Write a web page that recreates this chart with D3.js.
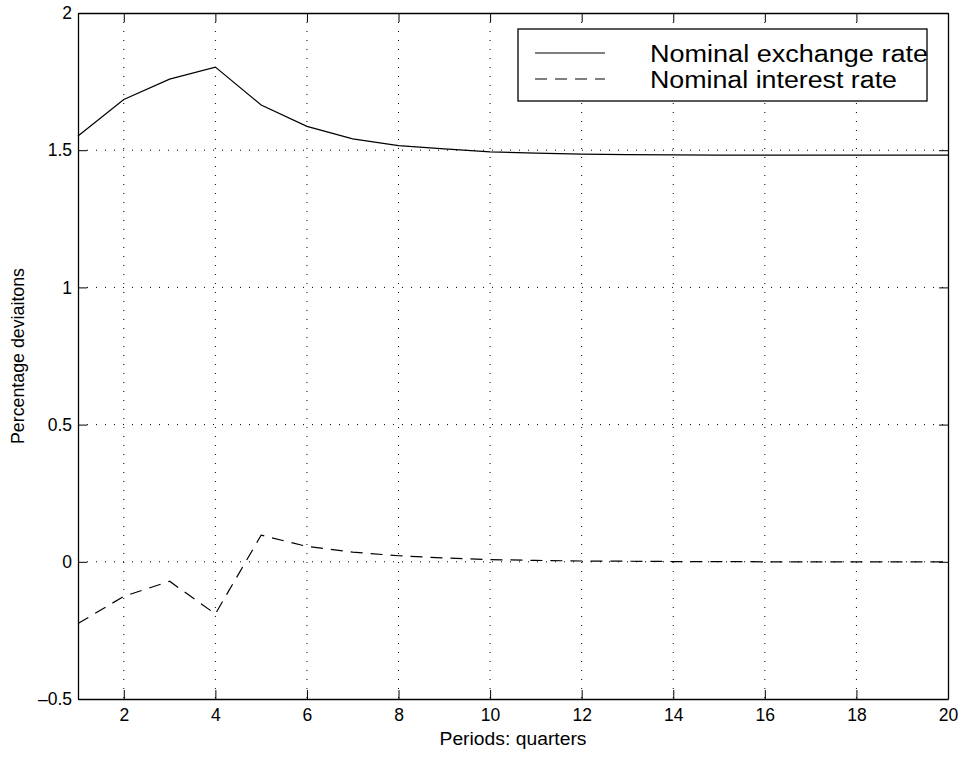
<!DOCTYPE html>
<html>
<head>
<meta charset="utf-8">
<script src="https://cdn.jsdelivr.net/npm/d3@7"></script>
<style>
  body { margin: 0; background: #fff; }
  text { font-family: "Liberation Sans", Arial, sans-serif; }
</style>
</head>
<body>
<div class="chart"></div>
<script>
var totalWidth = 964;
var totalHeight = 757;

var margin = { top: 13, left: 78, bottom: 58, right: 16 };

var width = totalWidth - margin.left - margin.right;
var height = totalHeight - margin.top - margin.bottom;

// DATA STUFF
var periods = [1, 2, 3, 4, 5, 6, 7, 8, 9, 10, 11, 12, 13, 14, 15, 16, 17, 18, 19, 20];
var exchangeRate = [1.552, 1.685, 1.759, 1.803, 1.665, 1.587, 1.541, 1.517, 1.505, 1.494,
  1.489, 1.486, 1.484, 1.483, 1.482, 1.482, 1.482, 1.482, 1.482, 1.482];
var interestRate = [-0.225, -0.126, -0.071, -0.19, 0.097, 0.056, 0.035, 0.022, 0.014, 0.008,
  0.005, 0.003, 0.002, 0.001, 0.001, 0, 0, 0, 0, 0];

var seriesNames = ["Nominal exchange rate", "Nominal interest rate"];
var xTicks = [2, 4, 6, 8, 10, 12, 14, 16, 18, 20];
var yTicks = [-0.5, 0, 0.5, 1, 1.5, 2];
var yTickLabels = ["\u20130.5", "0", "0.5", "1", "1.5", "2"];

// SCALES
var xScale = d3.scaleLinear().domain([1, 20]).range([0, width]);
var yScale = d3.scaleLinear().domain([-0.5, 2]).range([height, 0]);

var svg = d3.select(".chart")
  .append("svg")
  .attr("width", totalWidth)
  .attr("height", totalHeight);

var mainGroup = svg.append("g")
  .attr("transform", "translate(" + margin.left + "," + margin.top + ")");

// GRID
mainGroup.append("g")
  .selectAll("line")
  .data(xTicks.slice(0, -1))
  .enter()
  .append("line")
  .attr("x1", function(d) { return xScale(d); })
  .attr("x2", function(d) { return xScale(d); })
  .attr("y1", 0)
  .attr("y2", height)
  .attr("stroke", "#000")
  .attr("stroke-width", 1)
  .attr("stroke-dasharray", "1,8");

mainGroup.append("g")
  .selectAll("line")
  .data(yTicks.slice(1, -1))
  .enter()
  .append("line")
  .attr("x1", 0)
  .attr("x2", width)
  .attr("y1", function(d) { return yScale(d); })
  .attr("y2", function(d) { return yScale(d); })
  .attr("stroke", "#000")
  .attr("stroke-width", 1)
  .attr("stroke-dasharray", "1,8");

// AXES
var xAxis = d3.axisBottom(xScale).tickValues(xTicks).tickSizeInner(-9).tickSizeOuter(0).tickPadding(10);
var yAxis = d3.axisLeft(yScale).tickValues(yTicks).tickSizeInner(-9).tickSizeOuter(0).tickPadding(6)
  .tickFormat(function(d, i) { return yTickLabels[i]; });
var xTop = d3.axisTop(xScale).tickValues(xTicks).tickSizeInner(-9).tickSizeOuter(0).tickFormat("");
var yRight = d3.axisRight(yScale).tickValues(yTicks).tickSizeInner(-9).tickSizeOuter(0).tickFormat("");

function styleAxis(g) {
  g.selectAll(".domain").attr("stroke", "#000").attr("stroke-width", 1.3);
  g.selectAll(".tick line").attr("stroke", "#000");
  g.selectAll(".tick text")
    .style("font-family", "'Liberation Sans', Arial, sans-serif")
    .style("font-size", "17.5px")
    .attr("fill", "#000");
}

mainGroup.append("g").attr("transform", "translate(0," + height + ")").call(xAxis).call(styleAxis);
mainGroup.append("g").call(yAxis).call(styleAxis);
mainGroup.append("g").call(xTop).call(styleAxis);
mainGroup.append("g").attr("transform", "translate(" + width + ",0)").call(yRight).call(styleAxis);

// LINES
var line = d3.line()
  .x(function(d, i) { return xScale(periods[i]); })
  .y(function(d) { return yScale(d); });

mainGroup.append("path")
  .datum(exchangeRate)
  .attr("d", line)
  .attr("fill", "none")
  .attr("stroke", "#000")
  .attr("stroke-width", 1.2);

mainGroup.append("path")
  .datum(interestRate)
  .attr("d", line)
  .attr("fill", "none")
  .attr("stroke", "#000")
  .attr("stroke-width", 1.2)
  .attr("stroke-dasharray", "12,8");

// LABELS
svg.append("text")
  .attr("x", margin.left + width / 2)
  .attr("y", 745)
  .attr("text-anchor", "middle")
  .attr("textLength", 147)
  .attr("lengthAdjust", "spacingAndGlyphs")
  .style("font-size", "17.5px")
  .text("Periods: quarters");

svg.append("text")
  .attr("transform", "translate(24," + (margin.top + height / 2) + ") rotate(-90)")
  .attr("text-anchor", "middle")
  .attr("textLength", 176)
  .attr("lengthAdjust", "spacingAndGlyphs")
  .style("font-size", "17.5px")
  .text("Percentage deviaitons");

// LEGEND
var legend = svg.append("g").attr("transform", "translate(518,29)");
legend.append("rect")
  .attr("width", 409)
  .attr("height", 72)
  .attr("fill", "#fff")
  .attr("stroke", "#000")
  .attr("stroke-width", 1.3);

var dashes = [null, "12,8"];
var legendWidths = [278, 247];
legend.selectAll(".item")
  .data(seriesNames)
  .enter()
  .append("g")
  .attr("transform", function(d, i) { return "translate(0," + (24 + i * 26) + ")"; })
  .each(function(d, i) {
    var g = d3.select(this);
    g.append("line")
      .attr("x1", 17).attr("x2", 87)
      .attr("stroke", "#000")
      .attr("stroke-width", 1.2)
      .attr("stroke-dasharray", dashes[i]);
    g.append("text")
      .attr("x", 132)
      .attr("y", 9)
      .attr("textLength", legendWidths[i])
      .attr("lengthAdjust", "spacingAndGlyphs")
      .style("font-size", "23px")
      .text(d);
  });
</script>
</body>
</html>
